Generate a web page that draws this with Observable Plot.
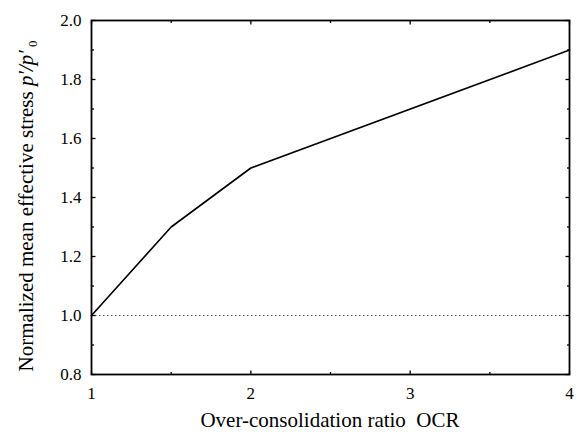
<!DOCTYPE html>
<html>
<head>
<meta charset="utf-8">
<script src="https://cdn.jsdelivr.net/npm/d3@7"></script>
<script src="https://cdn.jsdelivr.net/npm/@observablehq/plot@0.6"></script>
<style>
  html, body { margin: 0; padding: 0; background: #fff; }
  svg, svg text, svg tspan { font-family: "Liberation Serif", "Times New Roman", Times, serif !important; }
</style>
</head>
<body>
<div id="chart"></div>
<script>
// Data
const ocr = [1, 1.5, 2, 4];
const stress = [1.0, 1.3, 1.5, 1.9];
const refLevel = [1.0];
const xTicks = [1, 2, 3, 4];
const xMinorTicks = [1.5, 2.5, 3.5];
const yTicks = [0.8, 1.0, 1.2, 1.4, 1.6, 1.8, 2.0];
const yMinorTicks = [0.9, 1.1, 1.3, 1.5, 1.7, 1.9];
const xLabel = "Over-consolidation ratio  OCR";

const curve = ocr.map((x, i) => ({x, y: stress[i]}));
const FONT = '"Liberation Serif", "Times New Roman", Times, serif';

function tickSymbol(len, dx, dy) {
  return {draw(ctx) { ctx.moveTo(0, 0); ctx.lineTo(dx * len, dy * len); }};
}
function tickMarks(values, axis, at, len, dx, dy) {
  const data = values.map(v => axis === "x" ? {x: v, y: at} : {x: at, y: v});
  return Plot.dot(data, {x: "x", y: "y", symbol: tickSymbol(len, dx, dy), r: 3,
    stroke: "#000", fill: "none", strokeWidth: 1.3});
}

const plot = Plot.plot({
  width: 577,
  height: 434,
  marginLeft: 91,
  marginRight: 8,
  marginTop: 20,
  marginBottom: 60,
  style: {fontFamily: FONT, fontSize: "17px", background: "#fff", color: "#000"},
  x: {domain: [1, 4], ticks: xTicks},
  y: {domain: [0.8, 2.0], ticks: yTicks},
  marks: [
    Plot.axisX(xTicks, {tickSize: 0, tickPadding: 12, fontSize: 17, label: null, tickFormat: d => String(d)}),
    Plot.axisY(yTicks, {tickSize: 0, tickPadding: 10, fontSize: 17, label: null, tickFormat: d3.format(".1f")}),
    Plot.ruleY(refLevel, {stroke: "#555", strokeWidth: 1, strokeDasharray: "1.5,2.5"}),
    Plot.line(curve, {x: "x", y: "y", stroke: "#000", strokeWidth: 1.6}),
    tickMarks(xTicks, "x", 0.8, 4, 0, -1),
    tickMarks(xMinorTicks, "x", 0.8, 2.5, 0, -1),
    tickMarks(xTicks, "x", 2.0, 4, 0, 1),
    tickMarks(xMinorTicks, "x", 2.0, 2.5, 0, 1),
    tickMarks(yTicks, "y", 1, 4, 1, 0),
    tickMarks(yMinorTicks, "y", 1, 2.5, 1, 0),
    tickMarks(yTicks, "y", 4, 4, -1, 0),
    tickMarks(yMinorTicks, "y", 4, 2.5, -1, 0),
    Plot.frame({stroke: "#000", strokeWidth: 1.8})
  ]
});

document.getElementById("chart").appendChild(plot);

const svg = d3.select(plot);
const xs = plot.scale("x");
const cx = (xs.apply(1) + xs.apply(4)) / 2;

svg.append("text")
  .attr("x", cx).attr("y", 427)
  .attr("text-anchor", "middle")
  .attr("font-size", 21)
  .attr("font-family", FONT)
  .attr("fill", "#000")
  .attr("xml:space", "preserve")
  .style("white-space", "pre")
  .text(xLabel);

const yl = svg.append("text")
  .attr("transform", `translate(33,206) rotate(-90)`)
  .attr("text-anchor", "middle")
  .attr("font-size", 21)
  .attr("font-family", FONT)
  .attr("fill", "#000");
yl.append("tspan").text("Normalized mean effective stress ");
yl.append("tspan").attr("font-style", "italic").text("p\u2032/p\u2032");
yl.append("tspan").attr("font-size", 13).attr("dy", 4).attr("dx", 3).text("0");
</script>
</body>
</html>
